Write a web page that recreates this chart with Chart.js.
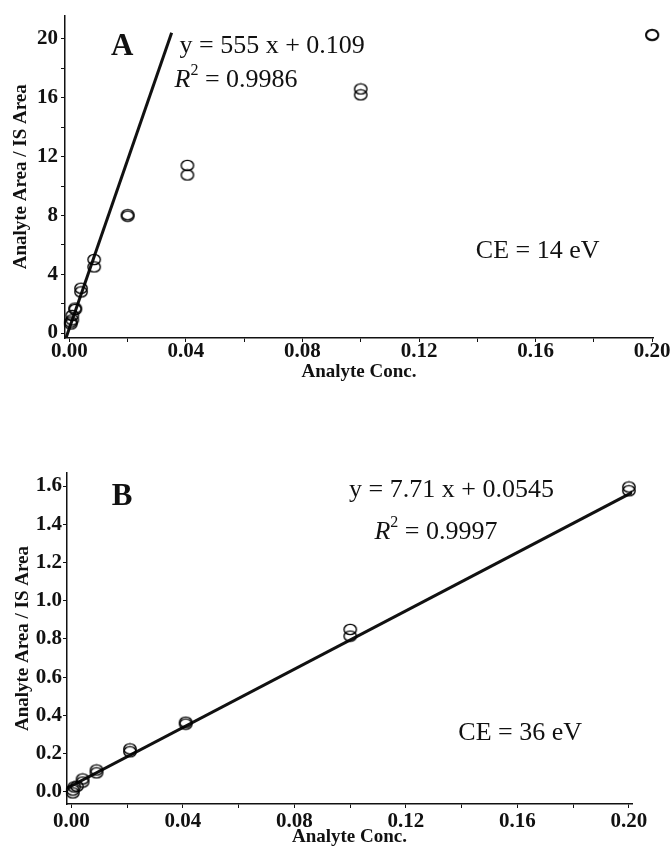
<!DOCTYPE html>
<html>
<head>
<meta charset="utf-8">
<title>Calibration curves</title>
<script src="https://cdn.jsdelivr.net/npm/chart.js@4.4.1/dist/chart.umd.min.js"></script>
<style>
  html, body { margin: 0; padding: 0; background: #fff; }
  .panel { position: absolute; left: 0; width: 672px; }
  #panelA { top: 0; height: 400px; }
  #panelB { top: 420px; height: 427px; }
</style>
</head>
<body>
<div class="panel" id="panelA"><canvas id="chartA"></canvas></div>
<div class="panel" id="panelB"><canvas id="chartB"></canvas></div>
<script>
// ── Data ───────────────────────────────────────────────────
const concA  = [0.0005, 0.0005, 0.001, 0.001, 0.002, 0.002, 0.004, 0.004, 0.0085, 0.0085, 0.02, 0.02, 0.0405, 0.0405, 0.1, 0.1, 0.2, 0.2];
const ratioA = [0.75, 0.62, 1.2, 0.9, 1.7, 1.6, 3.05, 2.8, 5.0, 4.5, 8.05, 7.95, 11.4, 10.75, 16.6, 16.2, 20.3, 20.25];
const fitXA  = [-0.0014, 0.0351];
const fitYA  = [-0.47, 20.42];

const concB  = [0.0005, 0.0005, 0.001, 0.002, 0.004, 0.004, 0.009, 0.009, 0.021, 0.021, 0.041, 0.041, 0.1, 0.1, 0.2, 0.2];
const ratioB = [-0.005, 0.01, 0.026, 0.03, 0.068, 0.052, 0.115, 0.10, 0.225, 0.21, 0.365, 0.355, 0.85, 0.815, 1.595, 1.575];
const fitXB  = [-0.0016, 0.2015];
const fitYB  = [0.02, 1.569];

const SERIF = '"Liberation Serif", "Times New Roman", serif';
const INK = '#111';

Chart.defaults.font.family = SERIF;
Chart.defaults.color = INK;

// ── Open elliptical marker like the original ───────────────
function ringMarker() {
  const c = document.createElement('canvas');
  c.width = 16; c.height = 13;
  const g = c.getContext('2d');
  g.strokeStyle = '#000';
  g.lineWidth = 1.4;
  g.beginPath();
  g.ellipse(8, 6.5, 6.2, 5.1, 0, 0, Math.PI * 2);
  g.stroke();
  return c;
}
const RING = ringMarker();

// ── Text annotations placed in data units ──────────────────
const notesPlugin = {
  id: 'notes',
  afterDraw(chart, args, opts) {
    const { ctx, scales: { x, y } } = chart;
    ctx.save();
    ctx.fillStyle = INK;
    ctx.textBaseline = 'middle';
    (opts.items || []).forEach(it => {
      let px = x.getPixelForValue(it.x);
      const py = y.getPixelForValue(it.y);
      ctx.textAlign = it.align || 'left';
      it.parts.forEach(p => {
        ctx.font = p.font;
        ctx.fillText(p.text, px, py + (p.sup ? -9 : 0));
        px += ctx.measureText(p.text).width;
      });
    });
    ctx.restore();
  }
};

const REG = `26px ${SERIF}`;
const ITAL = `italic 26px ${SERIF}`;
const SUP = `16px ${SERIF}`;
const BIG = `bold 31px ${SERIF}`;

function axisBase() {
  return {
    type: 'linear',
    border: { display: true, color: INK, width: 1.5 },
    grid: { display: true, drawOnChartArea: false, drawTicks: true, tickLength: 4, color: INK, tickWidth: 1 },
  };
}

function xLabel(v) {
  const k = Math.round(v / 0.02);
  return k % 2 === 0 ? (k * 0.02).toFixed(2) : '';
}

function makeChart(id, cfg) {
  const scatter = cfg.conc.map((c, i) => ({ x: c, y: cfg.ratio[i] }));
  const fit = cfg.fitX.map((c, i) => ({ x: c, y: cfg.fitY[i] }));
  return new Chart(document.getElementById(id), {
    type: 'scatter',
    data: {
      datasets: [
        {
          label: 'Fit',
          type: 'line',
          data: fit,
          borderColor: INK,
          borderWidth: 3,
          pointRadius: 0,
          fill: false,
          order: 2,
        },
        {
          label: 'Samples',
          data: scatter,
          pointStyle: RING,
          pointRadius: 6,
          clip: 12,
          order: 1,
        }
      ]
    },
    options: {
      responsive: true,
      maintainAspectRatio: false,
      animation: false,
      layout: { padding: cfg.pad },
      plugins: {
        legend: { display: false },
        tooltip: { enabled: false },
        notes: { items: cfg.notes },
      },
      scales: {
        x: Object.assign(axisBase(), {
          position: 'bottom',
          min: cfg.xMin, max: cfg.xMax,
          afterFit: s => { s.height = cfg.xHeight; },
          ticks: {
            stepSize: 0.02, includeBounds: false, autoSkip: false, maxRotation: 0,
            padding: cfg.xTickPad,
            font: { size: 21, weight: 'bold' },
            callback: xLabel,
          },
          title: {
            display: true, text: 'Analyte Conc.',
            font: { size: 19, weight: 'bold', lineHeight: 1 },
            padding: { top: 0, bottom: cfg.xTitlePad },
          },
        }),
        y: Object.assign(axisBase(), {
          position: 'left',
          min: cfg.yMin, max: cfg.yMax,
          afterFit: s => { s.width = cfg.yWidth; },
          ticks: {
            stepSize: cfg.yStep, includeBounds: false, autoSkip: false,
            padding: cfg.yTickPad,
            font: { size: 21, weight: 'bold' },
            callback: cfg.yLabel,
          },
          title: {
            display: true, text: 'Analyte Area / IS Area',
            font: { size: 19, weight: 'bold', lineHeight: 1 },
            padding: { top: cfg.yTitlePad, bottom: 0 },
          },
        }),
      }
    },
    plugins: [notesPlugin]
  });
}

// ── Panel A (CE = 14 eV) ───────────────────────────────────
makeChart('chartA', {
  conc: concA, ratio: ratioA, fitX: fitXA, fitY: fitYA,
  xMin: -0.0015, xMax: 0.2003, yMin: -0.336, yMax: 21.59, yStep: 2,
  yLabel: v => (Math.round(v) % 4 === 0 ? String(Math.round(v)) : ''),
  pad: { top: 12, right: 19, left: 0, bottom: 0 },
  xHeight: 62, yWidth: 65,
  xTickPad: -3, yTickPad: 3, xTitlePad: 18.5, yTitlePad: 11.5,
  notes: [
    { x: 0.0181, y: 19.45, align: 'center', parts: [{ text: 'A', font: BIG }] },
    { x: 0.0378, y: 19.5, parts: [{ text: 'y = 555 x + 0.109', font: REG }] },
    { x: 0.0361, y: 17.2, parts: [{ text: 'R', font: ITAL }, { text: '2', font: SUP, sup: true }, { text: ' = 0.9986', font: REG }] },
    { x: 0.1395, y: 5.6, parts: [{ text: 'CE = 14 eV', font: REG }] },
  ],
});

// ── Panel B (CE = 36 eV) ───────────────────────────────────
makeChart('chartB', {
  conc: concB, ratio: ratioB, fitX: fitXB, fitY: fitYB,
  xMin: -0.0016, xMax: 0.2011, yMin: -0.063, yMax: 1.668, yStep: 0.2,
  yLabel: v => v.toFixed(1),
  pad: { top: 53, right: 40, left: 0, bottom: 0 },
  xHeight: 43, yWidth: 67,
  xTickPad: 1, yTickPad: 1, xTitlePad: 0, yTitlePad: 14,
  notes: [
    { x: 0.0182, y: 1.542, align: 'center', parts: [{ text: 'B', font: BIG }] },
    { x: 0.0996, y: 1.579, parts: [{ text: 'y = 7.71 x + 0.0545', font: REG }] },
    { x: 0.1087, y: 1.36, parts: [{ text: 'R', font: ITAL }, { text: '2', font: SUP, sup: true }, { text: ' = 0.9997', font: REG }] },
    { x: 0.1388, y: 0.308, parts: [{ text: 'CE = 36 eV', font: REG }] },
  ],
});
</script>
</body>
</html>
